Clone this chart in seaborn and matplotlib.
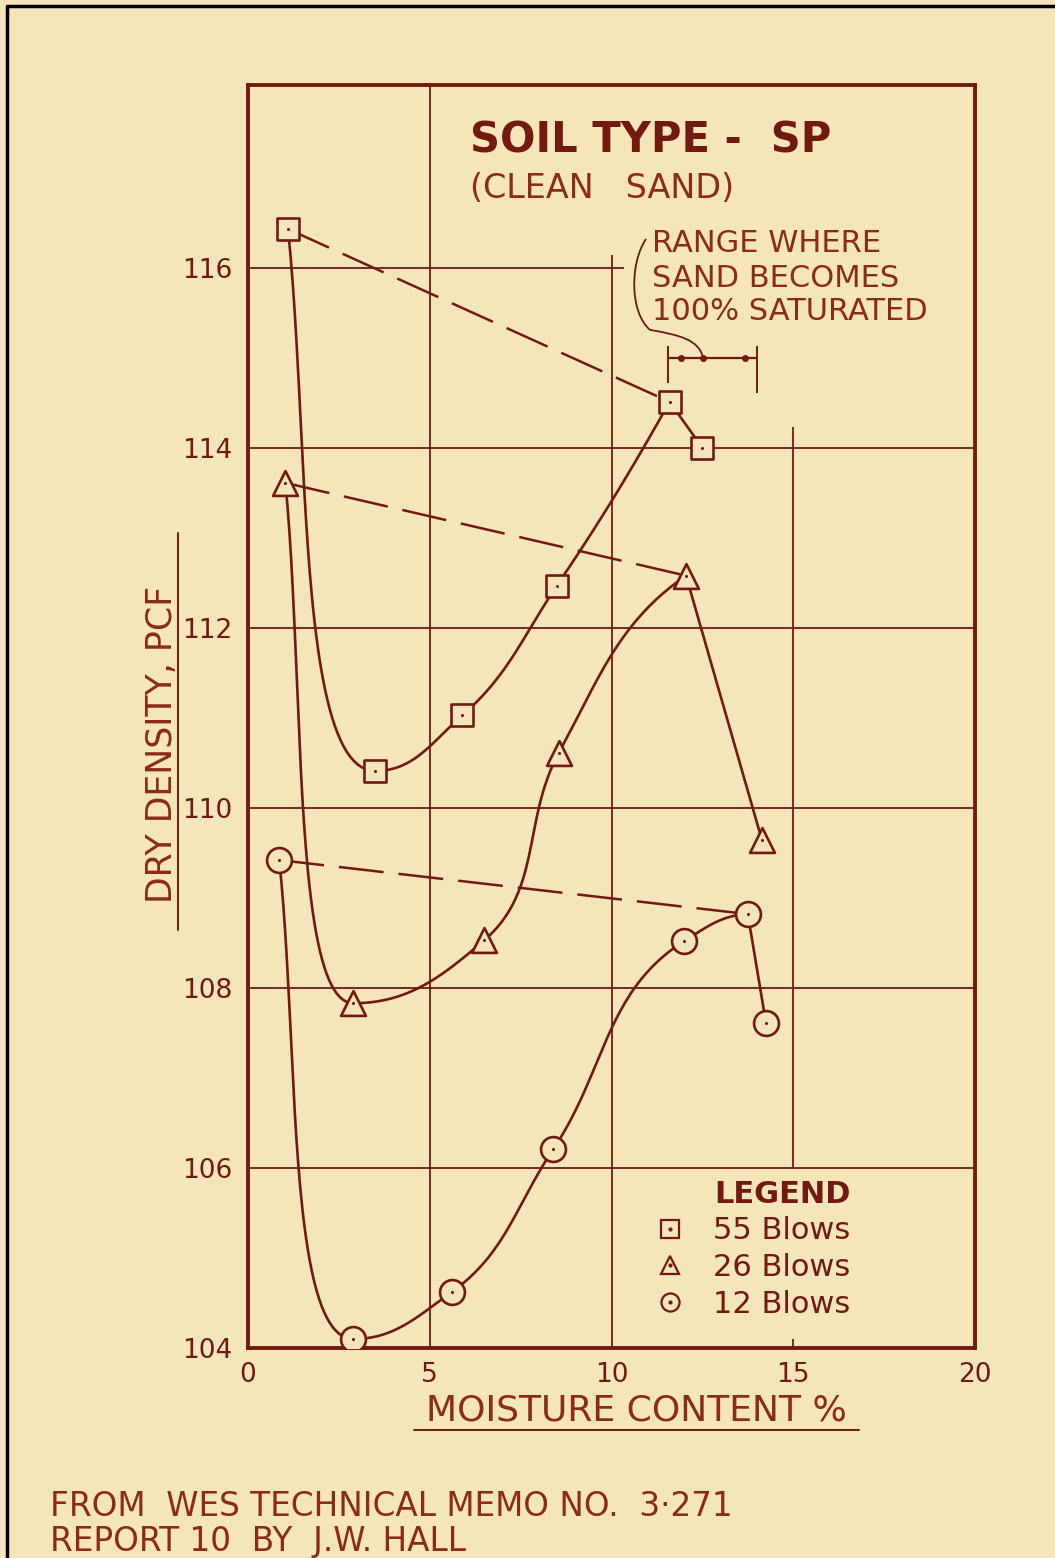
import numpy as np
import pandas as pd
import seaborn as sns
import matplotlib.pyplot as plt
from matplotlib.lines import Line2D
from matplotlib.path import Path
from matplotlib.patches import PathPatch
from matplotlib.legend_handler import HandlerTuple

# values
x_55 = [1.1, 3.5, 5.9, 8.5, 11.6, 12.5]
y_55 = [116.43, 110.41, 111.03, 112.47, 114.51, 114.0]
x_26 = [1.03, 2.9, 6.5, 8.55, 12.05, 14.14]
y_26 = [113.61, 107.83, 108.53, 110.61, 112.58, 109.64]
x_12 = [0.86, 2.9, 5.6, 8.4, 12.0, 13.75, 14.25]
y_12 = [109.42, 104.1, 104.62, 106.21, 108.52, 108.82, 107.61]
peak_idx = {"55": 4, "26": 4, "12": 5}
sat_range = [11.55, 14.0]

x_ticks = [0, 5, 10, 15, 20]
y_ticks = [104, 106, 108, 110, 112, 114, 116]

BG = "#F4E5BA"
INK = "#731A10"
TXT = "#8C2A1C"

sns.set_style("white")
plt.rcParams["font.family"] = ["DejaVu Sans"]

fig = plt.figure(figsize=(10.55, 15.58), dpi=100, facecolor=BG)
ax = fig.add_axes([248 / 1055, 1 - 1348 / 1558, 727 / 1055, 1263 / 1558])
ax.set_facecolor(BG)
ax.set_xlim(0, 20)
ax.set_ylim(104, 118.03)


def smooth_xy(xs, ys, k=0.38, n=50):
    """French-curve style path: pchip slopes, bezier arms sized in screen space."""
    pts = ax.transData.transform(np.column_stack([xs, ys]))
    X, Y = pts[:, 0], pts[:, 1]
    h = np.diff(X)
    d = np.diff(Y) / h
    npt = len(X)
    m = np.zeros(npt)
    for i in range(1, npt - 1):
        if d[i - 1] * d[i] > 0:
            w1 = 2 * h[i] + h[i - 1]
            w2 = h[i] + 2 * h[i - 1]
            m[i] = (w1 + w2) / (w1 / d[i - 1] + w2 / d[i])
    if npt > 2:
        m[0] = ((2 * h[0] + h[1]) * d[0] - h[0] * d[1]) / (h[0] + h[1])
        if np.sign(m[0]) != np.sign(d[0]):
            m[0] = 0
        m[-1] = ((2 * h[-1] + h[-2]) * d[-1] - h[-1] * d[-2]) / (h[-1] + h[-2])
        if np.sign(m[-1]) != np.sign(d[-1]):
            m[-1] = 0
    else:
        m[:] = d[0]
    t = np.linspace(0, 1, n)[1:, None]
    out = [pts[:1]]
    for i in range(npt - 1):
        p0, p1 = pts[i], pts[i + 1]
        c = np.hypot(h[i], Y[i + 1] - Y[i])
        u0 = np.array([1.0, m[i]]) / np.hypot(1, m[i])
        u1 = np.array([1.0, m[i + 1]]) / np.hypot(1, m[i + 1])
        L0 = min(k * c, 0.9 * h[i] / u0[0])
        L1 = min(k * c, 0.9 * h[i] / u1[0])
        c0 = p0 + u0 * L0
        c1 = p1 - u1 * L1
        seg = (1 - t) ** 3 * p0 + 3 * (1 - t) ** 2 * t * c0 + 3 * (1 - t) * t ** 2 * c1 + t ** 3 * p1
        out.append(seg)
    xy = ax.transData.inverted().transform(np.vstack(out))
    return xy[:, 0], xy[:, 1]


# grid, drawn partly like the original sheet
gkw = dict(color=INK, lw=1.3, zorder=1)
ax.hlines([106, 108, 110, 112, 114], 0, 20, **gkw)
ax.hlines(116, 0, 10.35, **gkw)
ax.vlines(5, 104, 118.03, **gkw)
ax.vlines(10, 104, 116.14, **gkw)
ax.vlines(15, 106, 114.23, **gkw)
ax.vlines(15, 104, 104.1, **gkw)
for s in ax.spines.values():
    s.set_color(INK)
    s.set_linewidth(2.8)

series = [("55", x_55, y_55, "s", 240), ("26", x_26, y_26, "^", 320), ("12", x_12, y_12, "o", 320)]
handles = []
for name, xs, ys, mk, size in series:
    p = peak_idx[name]
    sx, sy = smooth_xy(xs[:p + 1], ys[:p + 1])
    sns.lineplot(x=sx, y=sy, sort=False, estimator=None, color=INK, lw=1.9, ax=ax, zorder=2)
    sns.lineplot(x=xs[p:], y=ys[p:], sort=False, estimator=None, color=INK, lw=1.9, ax=ax, zorder=2)
    sns.lineplot(x=[xs[0], xs[p]], y=[ys[0], ys[p]], sort=False, estimator=None, color=INK,
                 lw=1.8, ax=ax, zorder=2).lines[-1].set_dashes([18, 6])
    sns.scatterplot(x=xs, y=ys, marker=mk, s=size, facecolor=BG, edgecolor=INK, linewidth=1.9,
                    ax=ax, zorder=4)
    sns.scatterplot(x=xs, y=ys, marker="o", s=5, color=INK, linewidth=0, ax=ax, zorder=5)
    h1 = Line2D([], [], ls="none", marker=mk, ms=13, mfc=BG, mec=INK, mew=1.6)
    h2 = Line2D([], [], ls="none", marker="o", ms=2, color=INK)
    handles.append((h1, h2))

# saturation range bracket and leader
ax.hlines(115.0, sat_range[0], sat_range[1], color=INK, lw=1.6)
ax.vlines(sat_range[0], 114.72, 115.13, color=INK, lw=1.4)
ax.vlines(sat_range[1], 114.61, 115.13, color=INK, lw=1.4)
ax.scatter([11.9, 12.52, 13.67], [115.0, 115.0, 115.0], s=16, color=INK, zorder=5)
leader = Path([(10.95, 116.32), (10.5, 116.05), (10.5, 115.5), (11.06, 115.31),
               (11.9, 115.25), (12.4, 115.2), (12.52, 115.0)],
              [Path.MOVETO, Path.CURVE4, Path.CURVE4, Path.CURVE4, Path.CURVE4, Path.CURVE4, Path.CURVE4])
ax.add_patch(PathPatch(leader, fc="none", ec=INK, lw=1.3))
for yy, line in zip([116.27, 115.88, 115.51], ["RANGE WHERE", "SAND BECOMES", "100% SATURATED"]):
    ax.text(11.12, yy, line, color=TXT, fontsize=22, ha="left", va="center")

# titles
ax.text(0.305, 0.956, "SOIL TYPE -  SP", transform=ax.transAxes, color=INK, fontsize=30,
        fontweight="bold", ha="left", va="center")
ax.text(0.305, 0.918, "(CLEAN   SAND)", transform=ax.transAxes, color=TXT, fontsize=24,
        ha="left", va="center")

# axes text
ax.set_xticks(x_ticks)
ax.set_yticks(y_ticks)
ax.set_xticklabels([str(v) for v in x_ticks])
ax.set_yticklabels([str(v) for v in y_ticks])
ax.tick_params(length=0, labelsize=19, labelcolor=INK)
ax.tick_params(axis="x", pad=10)
ax.tick_params(axis="y", pad=11.5)
ax.set_xlabel("MOISTURE CONTENT %", fontsize=26, color=TXT)
ax.xaxis.set_label_coords(0.534, -0.036)
ax.set_ylabel("DRY DENSITY, PCF", fontsize=25, color=TXT, va="baseline")
ax.yaxis.set_label_coords(-0.105, 0.478)
ax.add_line(Line2D([0.229, 0.84], [-0.065, -0.065], transform=ax.transAxes, color=INK, lw=1.4,
                   clip_on=False))
ax.add_line(Line2D([-0.096, -0.096], [0.331, 0.645], transform=ax.transAxes, color=INK, lw=1.4,
                   clip_on=False))

leg = ax.legend(handles, ["55 Blows", "26 Blows", "12 Blows"], handler_map={tuple: HandlerTuple(ndivide=1)},
                title="LEGEND", loc="upper left", bbox_to_anchor=(0.522, 0.155), frameon=False,
                fontsize=22, handlelength=1.0, handletextpad=0.9, labelspacing=0.25, alignment="right",
                title_fontproperties={"weight": "bold", "size": 22})
for t in leg.get_texts():
    t.set_color(INK)
leg.get_title().set_color(INK)

fig.text(50 / 1055, 1 - 1507 / 1558, "FROM  WES TECHNICAL MEMO NO.  3·271", color=TXT, fontsize=23.5,
         ha="left", va="center")
fig.text(50 / 1055, 1 - 1541 / 1558, "REPORT 10  BY  J.W. HALL", color=TXT, fontsize=23.5,
         ha="left", va="center")

# sheet border (top and left)
fig.add_artist(Line2D([7 / 1055, 7 / 1055], [0, 1 - 6 / 1558], color="black", lw=2.5))
fig.add_artist(Line2D([7 / 1055, 1], [1 - 6 / 1558, 1 - 6 / 1558], color="black", lw=2.5))

fig.savefig("out.png", dpi=100, facecolor=BG)
